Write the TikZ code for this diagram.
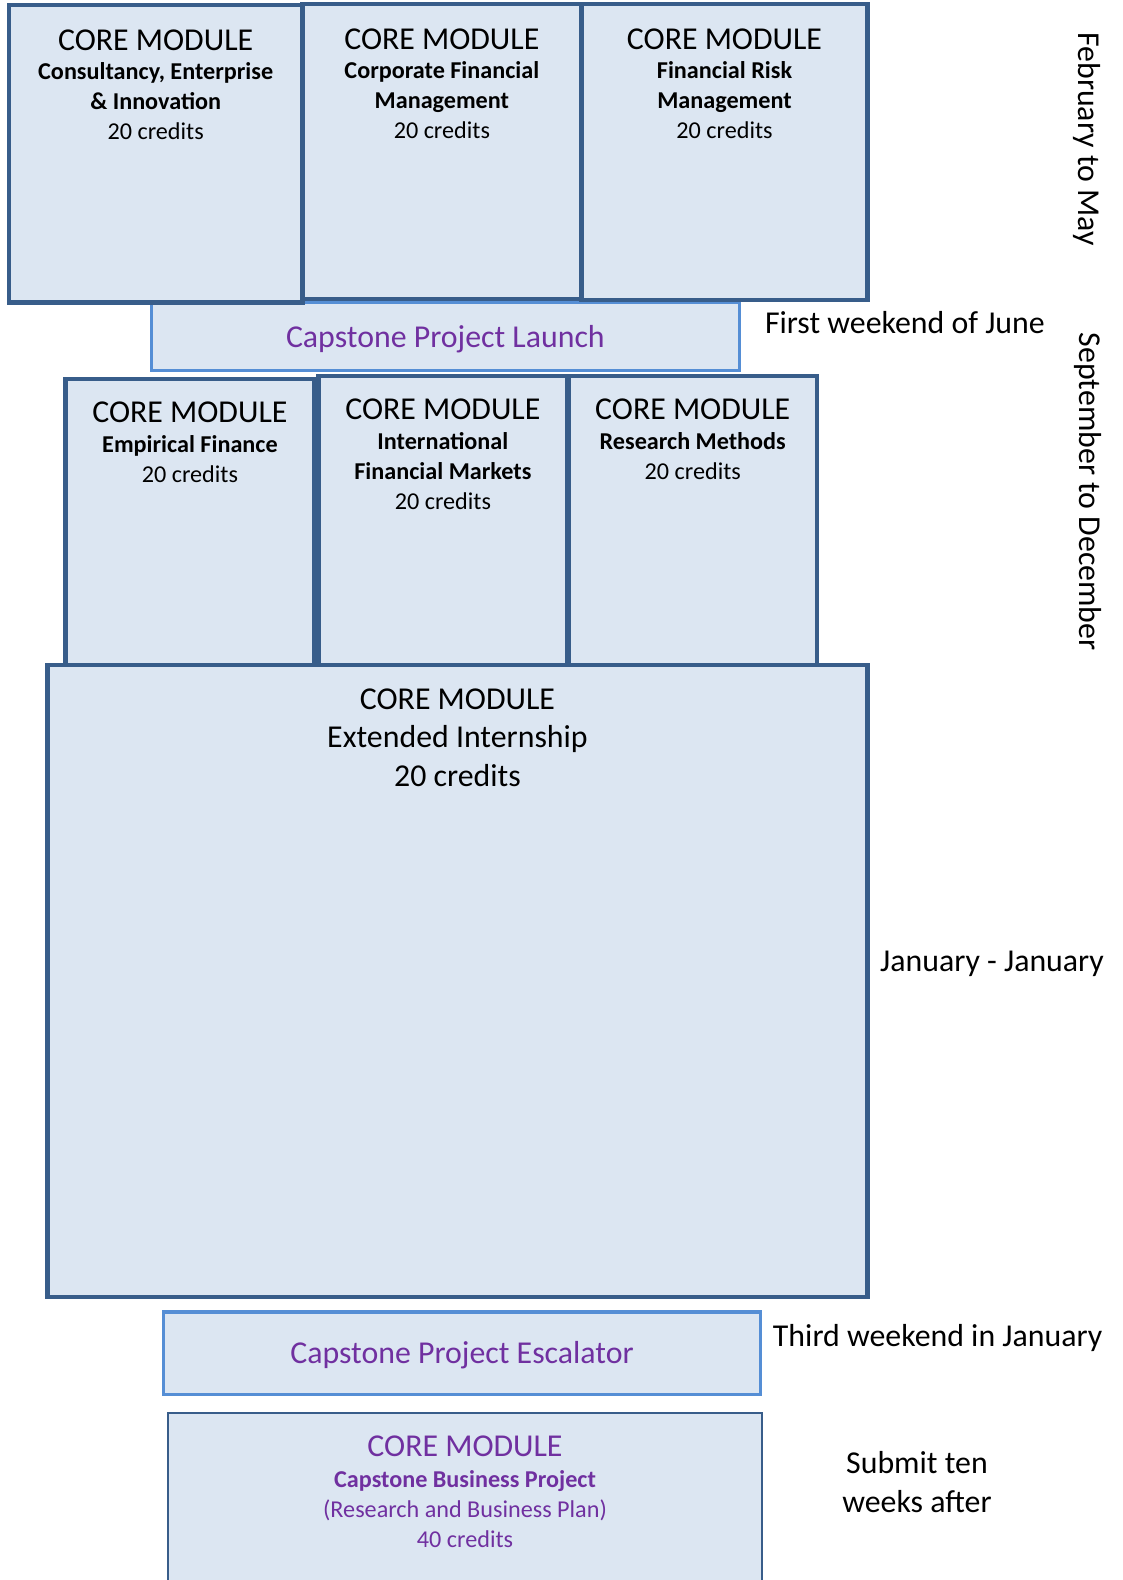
\documentclass[tikz,border=0pt]{standalone}
\usepackage{fontspec}
\setmainfont{Carlito}
\definecolor{boxfill}{HTML}{DCE6F2}
\definecolor{boxline}{HTML}{385D8A}
\definecolor{evtline}{HTML}{558ED5}
\definecolor{capst}{HTML}{7030A0}
\newcommand{\bigtxt}{\fontsize{15.8}{19.25}\selectfont}

\begin{document}
\begin{tikzpicture}[x=0.5pt,y=-0.5pt,
  core/.style={draw=boxline,line width=2.2pt,fill=boxfill,inner sep=0pt},
  evt/.style={draw=evtline,line width=1.6pt,fill=boxfill,font=\bigtxt,text=capst,
              text height=14pt,text depth=3.5pt},
  hd/.style={anchor=north,align=center,inner sep=0pt,font=\fontsize{12}{14.8}\selectfont},
  side/.style={font=\bigtxt,align=center,inner sep=0pt}
]
\useasboundingbox (0,0) rectangle (1114,1568);
\clip (0,0) rectangle (1114,1568);

% launch bar sits under the first row
\node[evt,minimum width=292pt,minimum height=34pt] (launch) at (442,334) {Capstone Project Launch};

% February to May
\node[core,minimum width=145.5pt,minimum height=147.5pt] (cei) at (154.5,152.5) {};
\node[core,minimum width=138.5pt,minimum height=146.5pt] (cfm) at (438.5,150.5) {};
\node[core,minimum width=142pt,minimum height=147pt]     (frm) at (719,151) {};
\node[hd] at ([yshift=-13pt]cei.north) {{\bigtxt CORE MODULE}\\\textbf{Consultancy, Enterprise}\\\textbf{\& Innovation}\\20 credits};
\node[hd] at ([yshift=-13pt]cfm.north) {{\bigtxt CORE MODULE}\\\textbf{Corporate Financial}\\\textbf{Management}\\20 credits};
\node[hd] at ([yshift=-13pt]frm.north) {{\bigtxt CORE MODULE}\\\textbf{Financial Risk}\\\textbf{Management}\\20 credits};

% September to December
\node[core,minimum width=407pt,minimum height=313.5pt] (ext) at (454,973.5) {};
\node[core,minimum width=123.5pt,minimum height=142pt]  (ef)  at (188.5,518) {};
\node[core,minimum width=123.5pt,minimum height=143.5pt] (ifm) at (439.5,516.5) {};
\node[core,minimum width=123.5pt,minimum height=143.5pt] (rm)  at (687.5,516.5) {};
\node[hd] at ([yshift=-12.5pt]ef.north)  {{\bigtxt CORE MODULE}\\\textbf{Empirical Finance}\\20 credits};
\node[hd] at ([yshift=-12.5pt]ifm.north) {{\bigtxt CORE MODULE}\\\textbf{International}\\\textbf{Financial Markets}\\20 credits};
\node[hd] at ([yshift=-12.5pt]rm.north)  {{\bigtxt CORE MODULE}\\\textbf{Research Methods}\\20 credits};
\node[hd,font=\bigtxt] at ([yshift=-12.5pt]ext.north) {CORE MODULE\\Extended Internship\\20 credits};

% January onwards
\node[evt,minimum width=296.5pt,minimum height=41pt] (esc) at (458.5,1343) {Capstone Project Escalator};
\node[core,line width=1.2pt,minimum width=294.5pt,minimum height=88pt] (cbp) at (461.5,1490) {};
\node[hd,text=capst] at ([yshift=-12pt]cbp.north) {{\bigtxt CORE MODULE}\\[0.5pt]\textbf{Capstone Business Project}\\(Research and Business Plan)\\40 credits};

% timing notes
\node[side,rotate=-90] (feb)  at (1079,138)   {February to May};
\node[side]            (jun)  at (898,320)    {First weekend of June};
\node[side,rotate=-90] (sep)  at (1080,488)   {September to December};
\node[side]            (jan)  at (984.5,957)  {January - January};
\node[side]            (thr)  at (930.5,1328) {Third weekend in January};
\node[side]            (sub)  at (910,1471)   {Submit ten\\weeks after};
\end{tikzpicture}
\end{document}
